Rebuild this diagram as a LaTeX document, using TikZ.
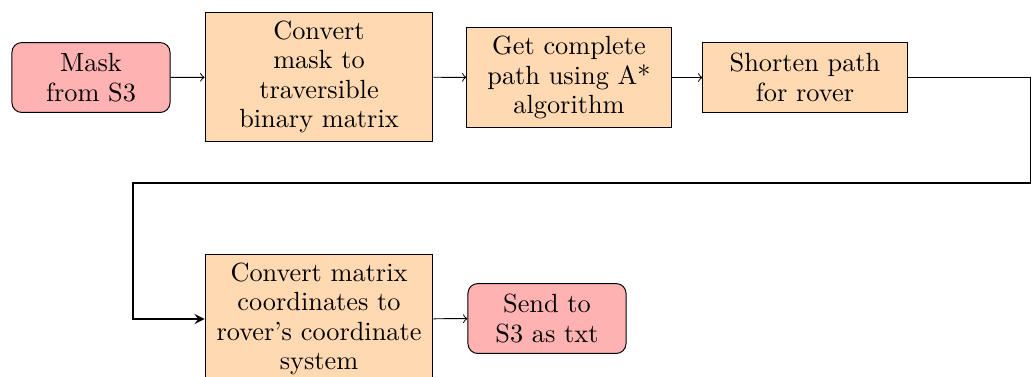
\documentclass[tikz,border=0pt]{standalone}
\usetikzlibrary{arrows}
\begin{document}
\begin{tikzpicture}[x=0.4068pt, y=-0.4068pt,
  every node/.style={font=\fontsize{10.7pt}{12pt}\selectfont},
  startstop/.style={rectangle, rounded corners=4pt, draw=black, fill=red!30,
    align=center, minimum width=64.3pt, minimum height=1cm, inner sep=3.33pt},
  process/.style={rectangle, draw=black, fill=orange!30, align=center,
    minimum height=1cm, inner sep=3.33pt},
  flow/.style={->},
  feedback/.style={thick, ->, >=stealth}]
  \useasboundingbox (0,0) rectangle (1032,376);

  % upper row
  \node[startstop] (mask) at (91,77.5) {Mask\\from S3};
  \node[process, minimum width=92.7pt] (conv) at (319,77) {Convert\\mask to\\traversible\\binary matrix};
  \node[process, minimum width=83pt] (astar) at (569,77.5) {Get complete\\path using A*\\algorithm};
  \node[process, minimum width=83pt] (short) at (805,77.5) {Shorten path\\for rover};

  % lower row
  \node[process, minimum width=92.7pt] (coords) at (319,319) {Convert matrix\\coordinates to\\rover's coordinate\\system};
  \node[startstop] (send) at (547,318.5) {Send to\\S3 as txt};

  % bends of the return line
  \coordinate (turnR) at (1030.5,183);
  \coordinate (turnL) at (133,183);

  \draw[flow] (mask) -- (conv);
  \draw[flow] (conv) -- (astar);
  \draw[flow] (astar) -- (short);
  \draw[feedback] (short.east) -| (turnR) -- (turnL) |- (coords.west);
  \draw[flow] (coords) -- (send);
\end{tikzpicture}
\end{document}
